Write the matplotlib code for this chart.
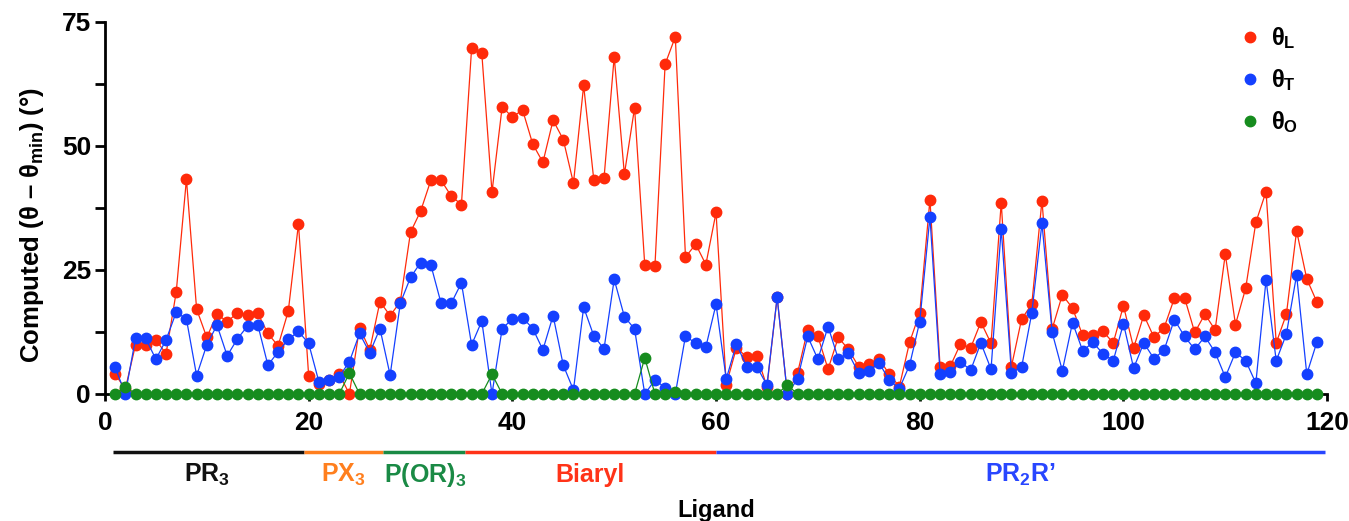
import matplotlib
matplotlib.use("Agg")
import matplotlib.pyplot as plt
import matplotlib.transforms as mtransforms
from matplotlib.ticker import MultipleLocator
import numpy as np

plt.rcParams['font.family'] = ['Liberation Sans', 'DejaVu Sans']
plt.rcParams['font.weight'] = 'bold'
plt.rcParams['mathtext.fontset'] = 'custom'
plt.rcParams['mathtext.rm'] = 'Liberation Sans:bold'
plt.rcParams['mathtext.it'] = 'Liberation Sans:bold'
plt.rcParams['mathtext.bf'] = 'Liberation Sans:bold'

ligand = list(range(1, 120))

theta_L = [4.0, 1.0, 9.9, 9.9, 10.9, 8.1, 20.6, 43.3, 17.1, 11.4,
           16.1, 14.6, 16.3, 15.9, 16.3, 12.2, 9.7, 16.7, 34.3, 3.7,
           2.0, 2.8, 4.0, 0.0, 13.4, 8.9, 18.6, 15.8, 18.6, 32.6,
           36.9, 43.1, 43.1, 39.9, 38.2, 69.7, 68.7, 40.7, 57.9, 55.8,
           57.3, 50.4, 46.7, 55.2, 51.3, 42.5, 62.2, 43.1, 43.5, 68.0,
           44.3, 57.7, 26.0, 25.8, 66.5, 72.0, 27.6, 30.2, 26.1, 36.6,
           1.9, 9.3, 7.5, 7.7, 1.5, 19.5, 0.0, 4.2, 13.0, 11.6,
           5.0, 11.4, 9.0, 5.5, 6.0, 7.1, 4.0, 1.5, 10.4, 16.4,
           39.2, 5.4, 5.6, 10.1, 9.3, 14.5, 10.2, 38.6, 5.5, 15.1,
           18.1, 39.0, 13.1, 20.0, 17.3, 11.8, 11.9, 12.6, 10.3, 17.8,
           9.3, 15.9, 11.4, 13.4, 19.3, 19.4, 12.4, 16.1, 12.9, 28.2,
           14.0, 21.3, 34.6, 40.8, 10.3, 16.1, 32.9, 23.2, 18.5]

theta_T = [5.4, 0.0, 11.2, 11.2, 7.0, 10.9, 16.5, 15.1, 3.7, 9.9,
           13.9, 7.7, 11.1, 13.7, 14.0, 5.8, 8.5, 11.0, 12.6, 10.2,
           2.5, 2.8, 3.5, 6.5, 12.2, 8.3, 13.2, 3.8, 18.3, 23.5,
           26.5, 26.0, 18.3, 18.3, 22.4, 9.9, 14.7, 0.0, 13.2, 15.1,
           15.4, 13.2, 8.9, 15.8, 5.8, 0.8, 17.5, 11.7, 9.1, 23.1,
           15.6, 13.1, 0.0, 2.8, 1.3, 0.0, 11.7, 10.2, 9.5, 18.1,
           3.0, 10.1, 5.5, 5.5, 1.8, 19.5, 0.0, 3.0, 11.6, 7.0,
           13.6, 7.1, 8.2, 4.2, 4.6, 6.3, 2.8, 1.1, 5.8, 14.6,
           35.7, 4.0, 4.5, 6.5, 4.8, 10.3, 5.0, 33.3, 4.3, 5.4,
           16.3, 34.4, 12.4, 4.7, 14.4, 8.7, 10.4, 8.1, 6.7, 14.2,
           5.2, 10.3, 7.1, 8.9, 15.0, 11.6, 9.0, 11.6, 8.4, 3.4,
           8.4, 6.7, 2.2, 23.0, 6.7, 12.1, 24.0, 4.0, 10.5]

theta_O = [0.0] * 119
for idx, val in [(2, 1.5), (24, 4.2), (38, 4.0), (53, 7.3), (56, 0.5), (67, 1.8)]:
    theta_O[idx - 1] = val

categories = ["PR$_3$", "PX$_3$", "P(OR)$_3$", "Biaryl", "PR$_2$R\u2019"]
cat_start = [0.8, 19.5, 27.3, 35.4, 60.0]
cat_end = [19.5, 27.3, 35.4, 60.0, 119.8]
cat_label_x = [10.0, 23.4, 31.4, 47.6, 89.9]
cat_colors = ["#111111", "#ff7f1e", "#1a8a45", "#ff3318", "#2846ff"]

red = "#ff2a0a"
blue = "#1440ff"
green = "#168c1e"

fig = plt.figure(figsize=(13.49, 5.21), dpi=100)
ax = fig.add_axes([0.0778, 0.2438, 0.906, 0.714])

ms = 7.5
ax.plot(ligand, theta_L, '-o', color=red, lw=0.9, ms=ms, mec=red, clip_on=False, zorder=3, label=r'$\theta_L$')
ax.plot(ligand, theta_T, '-o', color=blue, lw=0.9, ms=ms, mec=blue, clip_on=False, zorder=4, label=r'$\theta_T$')
ax.plot(ligand, theta_O, '-o', color=green, lw=0.9, ms=ms, mec=green, clip_on=False, zorder=5, label=r'$\theta_O$')

ax.set_xlim(0, 120)
ax.set_ylim(0, 75)
ax.set_xticks([0, 20, 40, 60, 80, 100, 120])
ax.set_yticks([0, 25, 50, 75])
ax.yaxis.set_minor_locator(MultipleLocator(12.5))
for s in ['top', 'right']:
    ax.spines[s].set_visible(False)
for s in ['left', 'bottom']:
    ax.spines[s].set_linewidth(2.0)
ax.tick_params(axis='both', which='both', width=2.0, labelsize=19, direction='out')
ax.tick_params(axis='y', which='major', length=7, pad=3)
ax.tick_params(axis='y', which='minor', length=7)
ax.tick_params(axis='x', which='major', length=5, pad=7)
for lab in ax.get_xticklabels() + ax.get_yticklabels():
    lab.set_fontweight('bold')

ax.set_ylabel(r'Computed ($\theta$ – $\theta_{min}$) (°)', fontsize=18.5, fontweight='bold')
ax.yaxis.set_label_coords(-0.048, 0.455)

trans = mtransforms.blended_transform_factory(ax.transData, ax.transAxes)
for name, x0, x1, lx, c in zip(categories, cat_start, cat_end, cat_label_x, cat_colors):
    ax.plot([x0, x1], [-0.156, -0.156], color=c, lw=2.5, transform=trans, clip_on=False, solid_capstyle='butt')
    ax.text(lx, -0.218, name, color=c, fontsize=18, fontweight='bold', ha='center', va='center', transform=trans)

ax.text(0.5, -0.312, 'Ligand', fontsize=17, fontweight='bold', ha='center', va='center', transform=ax.transAxes)

leg = fig.legend(handles=ax.get_lines()[:3], loc='upper left', bbox_to_anchor=(0.9215, 0.952),
                 frameon=False, fontsize=17, borderpad=0, borderaxespad=0,
                 handlelength=0.55, handletextpad=0.65, labelspacing=0.68)
for h in leg.legend_handles:
    h.set_linestyle('None')

fig.savefig('out.png', dpi=100)
